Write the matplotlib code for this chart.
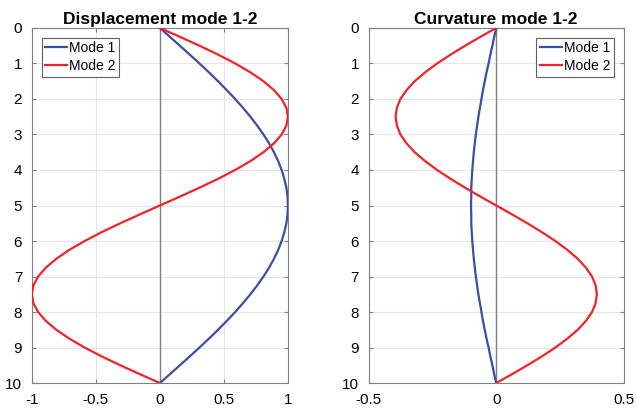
import matplotlib
matplotlib.use("Agg")
import matplotlib.pyplot as plt

plt.rcParams['font.family'] = ['Liberation Sans', 'DejaVu Sans']

depth = [0, 0.25, 0.5, 0.75, 1, 1.25, 1.5, 1.75, 2, 2.25, 2.5, 2.75, 3, 3.25, 3.5, 3.75,
         4, 4.25, 4.5, 4.75, 5, 5.25, 5.5, 5.75, 6, 6.25, 6.5, 6.75, 7, 7.25, 7.5, 7.75,
         8, 8.25, 8.5, 8.75, 9, 9.25, 9.5, 9.75, 10]

disp_mode1 = [0, .078, .156, .233, .309, .383, .454, .522, .588, .649, .707, .760, .809, .853,
              .891, .924, .951, .972, .988, .997, 1.0, .997, .988, .972, .951, .924, .891, .853,
              .809, .760, .707, .649, .588, .522, .454, .383, .309, .233, .156, .078, 0]
disp_mode2 = [0, .156, .309, .454, .588, .707, .809, .891, .951, .988, 1.0, .988, .951, .891,
              .809, .707, .588, .454, .309, .156, 0, -.156, -.309, -.454, -.588, -.707, -.809,
              -.891, -.951, -.988, -1.0, -.988, -.951, -.891, -.809, -.707, -.588, -.454, -.309,
              -.156, 0]

curv_mode1 = [0, -.008, -.015, -.023, -.030, -.038, -.045, -.052, -.058, -.064, -.070, -.075,
              -.080, -.084, -.088, -.091, -.094, -.096, -.098, -.098, -.099, -.098, -.098, -.096,
              -.094, -.091, -.088, -.084, -.080, -.075, -.070, -.064, -.058, -.052, -.045, -.038,
              -.030, -.023, -.015, -.008, 0]
curv_mode2 = [0, -.062, -.122, -.179, -.232, -.279, -.320, -.352, -.376, -.390, -.395, -.390,
              -.376, -.352, -.320, -.279, -.232, -.179, -.122, -.062, 0, .062, .122, .179, .232,
              .279, .320, .352, .376, .390, .395, .390, .376, .352, .320, .279, .232, .179, .122,
              .062, 0]

blue = '#3a4ea3'
red = '#f0232a'
frame = '#808080'

fig = plt.figure(figsize=(6.37, 4.11), dpi=100)
ax1 = fig.add_axes([0.050, 0.068, 0.402, 0.864])
ax2 = fig.add_axes([0.579, 0.068, 0.400, 0.864])

panels = [
    (ax1, disp_mode1, disp_mode2, 'Displacement mode 1-2', (-1, 1), [-1, -0.5, 0, 0.5, 1],
     ['-1', '-0.5', '0', '0.5', '1'], 'upper left'),
    (ax2, curv_mode1, curv_mode2, 'Curvature mode 1-2', (-0.5, 0.5), [-0.5, 0, 0.5],
     ['-0.5', '0', '0.5'], 'upper right'),
]

for ax, m1, m2, title, xlim, xt, xtl, loc in panels:
    ax.axvline(0, color='#7f7f7f', lw=1.0, zorder=1)
    ax.plot(m1, depth, color=blue, lw=1.6, label='Mode 1', zorder=3)
    ax.plot(m2, depth, color=red, lw=1.6, label='Mode 2', zorder=3)
    ax.set_xlim(*xlim)
    ax.set_ylim(10, 0)
    ax.set_xticks(xt)
    ax.set_xticklabels(xtl)
    ax.set_yticks(range(0, 11))
    ax.grid(True, color='#e6e6e6', lw=0.8)
    ax.set_axisbelow(True)
    ax.tick_params(direction='in', labelsize=11, color=frame, length=3,
                   top=True, right=True, pad=7)
    for s in ax.spines.values():
        s.set_color(frame)
        s.set_linewidth(0.8)
    ax.set_title(title, fontsize=12.5, fontweight='bold', pad=3)
    leg = ax.legend(loc=loc, fontsize=10, fancybox=False, framealpha=1,
                    edgecolor='#606060', handlelength=1.6, borderpad=0.25,
                    labelspacing=0.3, handletextpad=0.15, borderaxespad=0.7)
    leg.get_frame().set_linewidth(0.8)

fig.savefig('out.png', dpi=100)
